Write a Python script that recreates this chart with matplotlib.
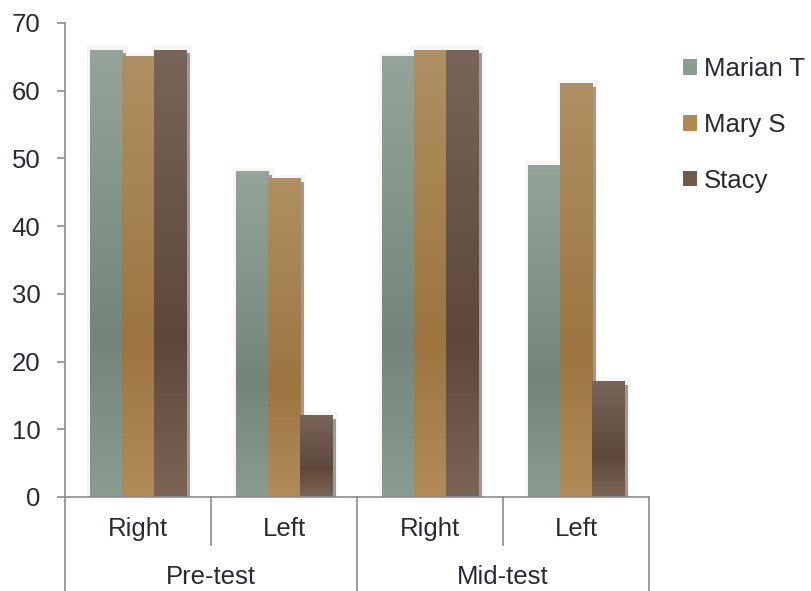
import matplotlib
matplotlib.use("Agg")
import matplotlib.pyplot as plt
import numpy as np
from matplotlib.colors import LinearSegmentedColormap
from matplotlib.patches import Rectangle, Patch

plt.rcParams['font.family'] = ['Liberation Sans', 'DejaVu Sans']

# scores per sub-category
sessions = ['Pre-test', 'Mid-test']
sides = ['Right', 'Left', 'Right', 'Left']
names = ['Marian T', 'Mary S', 'Stacy']
marian = [66, 48, 65, 49]
mary = [65, 47, 66, 61]
stacy = [66, 12, 66, 17]

# top / darkest / bottom shades for each series
shades = {
    'Marian T': ['#94a498', '#738579', '#8a9b8f'],
    'Mary S': ['#ae9062', '#9c7541', '#b08b58'],
    'Stacy': ['#786458', '#5d483b', '#7a6455'],
}
swatch = {'Marian T': '#8a9e90', 'Mary S': '#b08a50', 'Stacy': '#715a4c'}

TXT = '#2a2a35'
AXC = '#8c8c8c'
FS = 18.5

fig = plt.figure(figsize=(8.11, 5.91), dpi=100)
ax = fig.add_axes([65/811, 94/591, 584/811, 474/591])

bw = 0.22
x = np.arange(len(sides))
series = [marian, mary, stacy]


def grad_bar(ax, x0, h, cols):
    cmap = LinearSegmentedColormap.from_list('g', [(0, cols[2]), (0.35, cols[1]), (1, cols[0])])
    g = np.linspace(0, 1, 64).reshape(-1, 1)
    ax.imshow(g, cmap=cmap, origin='lower', aspect='auto',
              extent=[x0, x0 + bw, 0, h], zorder=3, interpolation='bilinear')


for i, (name, vals) in enumerate(zip(names, series)):
    for j, v in enumerate(vals):
        x0 = x[j] + (i - 1.5) * bw
        # faint halo and drop shadow
        ax.add_patch(Rectangle((x0 - 0.02, 0), bw + 0.06, v + 0.6, color='#f6f6f6', zorder=1, lw=0))
        ax.add_patch(Rectangle((x0 + 0.025, 0), bw, v - 0.5, color='#9a9a9a', zorder=2, lw=0))
        grad_bar(ax, x0, v, shades[name])

ax.set_xlim(-0.5, 3.5)
ax.set_ylim(0, 70)
ax.set_yticks(range(0, 71, 10))
ax.tick_params(axis='y', length=5.8, width=1.2, color=AXC, pad=12, labelsize=FS, labelcolor=TXT)
ax.set_xticks([])
for s in ['top', 'right']:
    ax.spines[s].set_visible(False)
for s in ['left', 'bottom']:
    ax.spines[s].set_color(AXC)
    ax.spines[s].set_linewidth(1.2)
    ax.spines[s].set_zorder(5)

# category axis with two label rows
tr = ax.get_xaxis_transform()
ax.plot([-0.5, -0.5], [0, -0.2], transform=tr, color=AXC, lw=1.2, clip_on=False)
for b in [0.5, 2.5]:
    ax.plot([b, b], [0, -0.101], transform=tr, color=AXC, lw=1.2, clip_on=False)
for b in [1.5, 3.5]:
    ax.plot([b, b], [0, -0.2], transform=tr, color=AXC, lw=1.2, clip_on=False)
for j, s in enumerate(sides):
    ax.text(x[j], -0.0675, s, transform=tr, ha='center', va='center', fontsize=FS, color=TXT)
for k, s in enumerate(sessions):
    ax.text(2 * k + 0.5, -0.169, s, transform=tr, ha='center', va='center', fontsize=FS, color=TXT)

handles = [Patch(facecolor=swatch[n], edgecolor='none', label=n) for n in names]
leg = fig.legend(handles=handles, loc='upper left', bbox_to_anchor=(683/811, 1 - 57/591),
                 frameon=False, fontsize=FS, handlelength=0.55, handleheight=0.55,
                 handletextpad=0.25, labelspacing=1.24, borderpad=0, borderaxespad=0)
for t in leg.get_texts():
    t.set_color(TXT)

fig.savefig('out.png', dpi=100)
